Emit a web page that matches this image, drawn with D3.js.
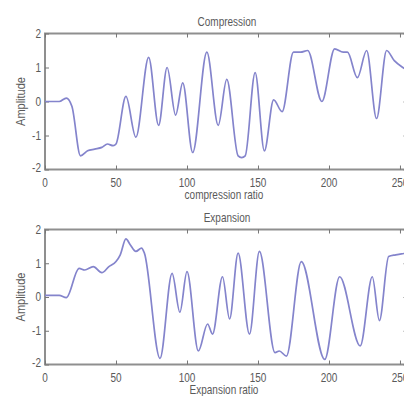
<!DOCTYPE html>
<html>
<head>
<meta charset="utf-8">
<script src="https://cdn.jsdelivr.net/npm/d3@7"></script>
<style>
  html, body { margin: 0; padding: 0; background: #fff; }
  svg { display: block; }
</style>
</head>
<body>
<div id="chart"></div>
<script>
// key points (sample index, amplitude)
const compT = [0, 10, 15, 19, 25, 30, 35, 40, 44, 48, 50, 57, 64, 73, 80, 86, 92, 97, 104, 114, 122, 128, 136, 138.5, 141, 148, 154.5, 161, 167, 175, 180, 185, 195, 204, 210, 213, 220, 226.5, 233.5, 240.6, 246, 252, 256];
const compA = [0, 0, 0.1, -0.15, -1.6, -1.45, -1.4, -1.35, -1.25, -1.3, -1.25, 0.15, -1.05, 1.3, -0.7, 1.0, -0.4, 0.55, -1.5, 1.45, -0.7, 0.65, -1.6, -1.65, -1.6, 0.85, -1.45, 0.05, -0.3, 1.45, 1.45, 1.5, 0.0, 1.55, 1.45, 1.45, 0.7, 1.5, -0.5, 1.5, 1.2, 1.0, 0.9];

const expT = [0, 10, 15, 24, 28, 34, 40, 45, 50, 53, 57, 60, 64, 68, 70, 81, 89.5, 95, 100, 108, 114.5, 118, 125, 130, 136, 144, 151, 162, 165, 170, 180.5, 197, 207.5, 222, 230.5, 235.5, 242, 247, 251, 256];
const expA = [0.05, 0.05, -0.02, 0.85, 0.8, 0.9, 0.72, 0.9, 1.05, 1.25, 1.72, 1.55, 1.35, 1.45, 1.3, -1.82, 0.7, -0.45, 0.75, -1.6, -0.8, -1.1, 0.6, -0.65, 1.3, -1.1, 1.35, -1.65, -1.6, -1.75, 1.05, -1.85, 0.6, -1.45, 0.6, -0.7, 1.2, 1.25, 1.28, 1.3];

const xTicks = [0, 50, 100, 150, 200, 250];
const yTicks = [-2, -1, 0, 1, 2];

const W = 404, H = 396;
const svg = d3.select('#chart').append('svg')
  .attr('width', W)
  .attr('height', H);

const left = 45, right = 408.5;
const font = 'Arial, "Liberation Sans", sans-serif';
const stretch = 1.3;

function label(g, x, y, txt, size, anchor, rot) {
  const t = g.append('text')
    .attr('transform', `translate(${x},${y}) rotate(${rot || 0}) scale(${rot ? 1.1 : 1},${rot ? 1.25 : stretch})`)
    .attr('text-anchor', anchor)
    .attr('dominant-baseline', 'central')
    .style('font-family', font)
    .style('font-size', size + 'px')
    .style('fill', '#5a5a5a')
    .text(txt);
  return t;
}

function panel(top, bottom, ts, as, title, xlab) {
  const x = d3.scaleLinear().domain([0, 256]).range([left, right]);
  const y = d3.scaleLinear().domain([-2, 2]).range([bottom, top]);
  const g = svg.append('g');

  // frame
  g.append('rect')
    .attr('x', left).attr('y', top)
    .attr('width', right - left).attr('height', bottom - top)
    .attr('fill', 'none')
    .attr('stroke', '#8f8f8f')
    .attr('stroke-width', 2);

  // inward ticks, all four sides (matlab style)
  g.append('g')
    .attr('transform', `translate(0,${bottom})`)
    .call(d3.axisBottom(x).tickValues(xTicks).tickSize(-4).tickFormat(''))
    .call(a => a.select('.domain').remove())
    .call(a => a.selectAll('line').attr('stroke', '#777'));
  g.append('g')
    .attr('transform', `translate(0,${top})`)
    .call(d3.axisTop(x).tickValues(xTicks).tickSize(-4).tickFormat(''))
    .call(a => a.select('.domain').remove())
    .call(a => a.selectAll('line').attr('stroke', '#777'));
  g.append('g')
    .attr('transform', `translate(${left},0)`)
    .call(d3.axisLeft(y).tickValues(yTicks).tickSize(-4).tickFormat(''))
    .call(a => a.select('.domain').remove())
    .call(a => a.selectAll('line').attr('stroke', '#777'));
  g.append('g')
    .attr('transform', `translate(${right},0)`)
    .call(d3.axisRight(y).tickValues(yTicks).tickSize(-5).tickFormat(''))
    .call(a => a.select('.domain').remove())
    .call(a => a.selectAll('line').attr('stroke', '#777'));

  // tick labels
  xTicks.forEach(v => label(g, x(v), bottom + 13, v, 10, 'middle'));
  yTicks.forEach(v => label(g, left - 4, y(v) + (v === -2 ? -2 : 0), v, 10, 'end'));

  // line
  const pts = ts.map((t, i) => [t, as[i]]);
  g.append('path')
    .datum(pts)
    .attr('fill', 'none')
    .attr('stroke', '#8484cc')
    .attr('stroke-width', 1.7)
    .attr('stroke-linejoin', 'round')
    .attr('d', d3.line()
      .x(d => x(d[0]))
      .y(d => y(d[1]))
      .curve(d3.curveMonotoneX));

  label(g, 227, top - 12, title, 10, 'middle');
  label(g, 224, bottom + 25, xlab, 10, 'middle');
  label(g, 20, (top + bottom) / 2, 'Amplitude', 10, 'middle', -90);
}

panel(33.5, 169.5, compT, compA, 'Compression', 'compression ratio');
panel(229.5, 364.5, expT, expA, 'Expansion', 'Expansion ratio');
</script>
</body>
</html>
